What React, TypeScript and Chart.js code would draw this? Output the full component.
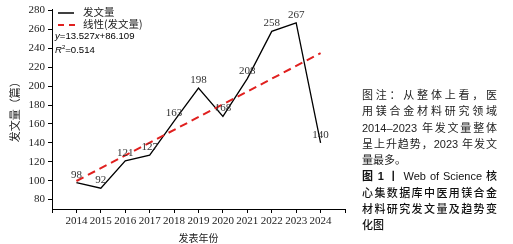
import React, { useEffect, useRef } from "react";
import { Chart, registerables } from "chart.js";

Chart.register(...registerables);

const years = [2014, 2015, 2016, 2017, 2018, 2019, 2020, 2021, 2022, 2023, 2024];
const counts = [98, 92, 121, 127, 163, 198, 168, 208, 258, 267, 140];
const yTickValues = [80, 100, 120, 140, 160, 180, 200, 220, 240, 260, 280];
const trendSlope = 13.527;
const trendIntercept = 86.109;
const trendR2 = 0.514;
const seriesLabel = "发文量";
const trendLabel = "线性(发文量)";
const xTitle = "发表年份";
const yTitle = "发文量（篇）";
const captionLines = [
  "图注：从整体上看，医",
  "用镁合金材料研究领域",
  "2014–2023 年发文量整体",
  "呈上升趋势，2023 年发文",
  "量最多。",
];
const titleLead = "图 1 丨";
const titleLines = [
  " Web of Science 核",
  "心集数据库中医用镁合金",
  "材料研究发文量及趋势变",
  "化图",
];

const SERIF = "'Liberation Serif', 'Times New Roman', serif";
const CJK = "'Noto Sans CJK SC', sans-serif";
const EQ = "'Liberation Sans', sans-serif";

const overlayPlugin = {
  id: "overlay",
  afterDatasetsDraw(chart: any) {
    const ctx = chart.ctx;
    const meta = chart.getDatasetMeta(0);
    ctx.save();
    ctx.fillStyle = "#333";
    ctx.font = `11px ${SERIF}`;
    ctx.textAlign = "center";
    ctx.textBaseline = "alphabetic";
    meta.data.forEach((pt: any, i: number) => {
      ctx.fillText(String(counts[i]), pt.x, pt.y - 5);
    });
    // legend
    const lx = chart.chartArea.left + 6;
    ctx.lineWidth = 1.5;
    ctx.strokeStyle = "#000";
    ctx.beginPath();
    ctx.moveTo(lx, 13);
    ctx.lineTo(lx + 16, 13);
    ctx.stroke();
    ctx.strokeStyle = "#e0201f";
    ctx.lineWidth = 2;
    ctx.setLineDash([6, 5]);
    ctx.beginPath();
    ctx.moveTo(lx, 25);
    ctx.lineTo(lx + 19, 25);
    ctx.stroke();
    ctx.setLineDash([]);
    ctx.fillStyle = "#222";
    ctx.textAlign = "left";
    ctx.textBaseline = "middle";
    ctx.font = `10.5px ${CJK}`;
    ctx.fillText(seriesLabel, lx + 25, 12);
    ctx.fillText(trendLabel, lx + 25, 24);
    // equation
    ctx.fillStyle = "#000";
    let x = chart.chartArea.left + 3;
    const y1 = 36;
    const parts: [string, boolean][] = [
      ["y", true],
      ["=" + trendSlope.toFixed(3), false],
      ["x", true],
      ["+" + trendIntercept.toFixed(3), false],
    ];
    parts.forEach(([t, it]) => {
      ctx.font = `${it ? "italic " : ""}9.6px ${EQ}`;
      ctx.fillText(t, x, y1);
      x += ctx.measureText(t).width;
    });
    x = chart.chartArea.left + 3;
    const y2 = 50;
    ctx.font = `italic 9.6px ${EQ}`;
    ctx.fillText("R", x, y2);
    x += ctx.measureText("R").width;
    ctx.font = `6px ${EQ}`;
    ctx.fillText("2", x, y2 - 3);
    x += ctx.measureText("2").width;
    ctx.font = `9.6px ${EQ}`;
    ctx.fillText("=" + trendR2.toFixed(3), x, y2);
    ctx.restore();
  },
};

export default function App() {
  const ref = useRef<HTMLCanvasElement>(null);
  useEffect(() => {
    if (!ref.current) return;
    const mainData = years.map((yr, i) => ({ x: yr, y: counts[i] }));
    const first = years[0];
    const last = years[years.length - 1];
    const trendData = [
      { x: first, y: trendSlope * 1 + trendIntercept },
      { x: last, y: trendSlope * years.length + trendIntercept },
    ];
    const chart = new Chart(ref.current, {
      type: "line",
      data: {
        datasets: [
          {
            label: seriesLabel,
            data: mainData,
            borderColor: "#000",
            borderWidth: 1.3,
            pointRadius: 0,
            tension: 0,
            order: 2,
          },
          {
            label: trendLabel,
            data: trendData,
            borderColor: "#e0201f",
            borderWidth: 2,
            borderDash: [8, 5],
            pointRadius: 0,
            order: 1,
          },
        ],
      },
      options: {
        animation: false,
        responsive: false,
        maintainAspectRatio: false,
        layout: { padding: { top: 7, right: 168, left: 0, bottom: 0 } },
        plugins: {
          legend: { display: false },
          tooltip: { enabled: false },
        },
        scales: {
          x: {
            type: "linear",
            min: 2013,
            max: 2025,
            afterBuildTicks: (s: any) => {
              const t = [];
              for (let v = 2013; v <= 2025; v++) t.push({ value: v });
              s.ticks = t;
            },
            afterFit: (s: any) => {
              s.height = 35;
            },
            ticks: {
              autoSkip: false,
              maxRotation: 0,
              padding: 2,
              color: "#222",
              font: { family: SERIF, size: 11 },
              callback: (v: any) => (v === 2013 || v === 2025 ? "" : String(v)),
            },
            grid: {
              drawOnChartArea: false,
              drawTicks: true,
              tickLength: 4,
              color: "#000",
            },
            border: { display: true, color: "#000", width: 1 },
            title: {
              display: true,
              text: xTitle,
              color: "#222",
              font: { family: CJK, size: 10 },
              padding: { top: 0, bottom: 0 },
            },
          },
          y: {
            min: 70,
            max: 281,
            afterBuildTicks: (s: any) => {
              s.ticks = yTickValues.map((v) => ({ value: v }));
            },
            afterFit: (s: any) => {
              s.width = 52;
            },
            ticks: {
              padding: 3,
              color: "#222",
              font: { family: SERIF, size: 11 },
            },
            grid: {
              drawOnChartArea: false,
              drawTicks: true,
              tickLength: 4,
              color: "#000",
            },
            border: { display: true, color: "#000", width: 1 },
            title: {
              display: true,
              text: yTitle,
              color: "#222",
              font: { family: CJK, size: 11 },
              padding: { top: 8, bottom: 0 },
            },
          },
        },
      },
      plugins: [overlayPlugin],
    });
    return () => chart.destroy();
  }, []);

  const lineStyle: React.CSSProperties = {
    height: "16.3px",
    lineHeight: "16.3px",
    whiteSpace: "nowrap",
  };
  const full: React.CSSProperties = {
    ...lineStyle,
    textAlign: "justify",
    textAlignLast: "justify" as any,
    whiteSpace: "normal",
    overflow: "hidden",
  };

  return (
    <div style={{ position: "fixed", left: 0, top: 0, width: 513, height: 244, background: "#fff" }}>
      <canvas ref={ref} width={513} height={244} style={{ position: "absolute", left: 0, top: 0 }} />
      <div
        style={{
          position: "absolute",
          left: 362,
          top: 87,
          width: 135,
          fontFamily: "'Liberation Sans', 'Noto Sans CJK SC', sans-serif",
          fontSize: 11,
          color: "#222",
        }}
      >
        {captionLines.map((t, i) => (
          <div key={"c" + i} style={i === captionLines.length - 1 ? lineStyle : full}>
            {t}
          </div>
        ))}
        {titleLines.map((t, i) => (
          <div
            key={"t" + i}
            style={{ ...(i === titleLines.length - 1 ? lineStyle : full), fontWeight: 500, color: "#111" }}
          >
            {i === 0 ? <b>{titleLead}</b> : null}
            {t}
          </div>
        ))}
      </div>
    </div>
  );
}
